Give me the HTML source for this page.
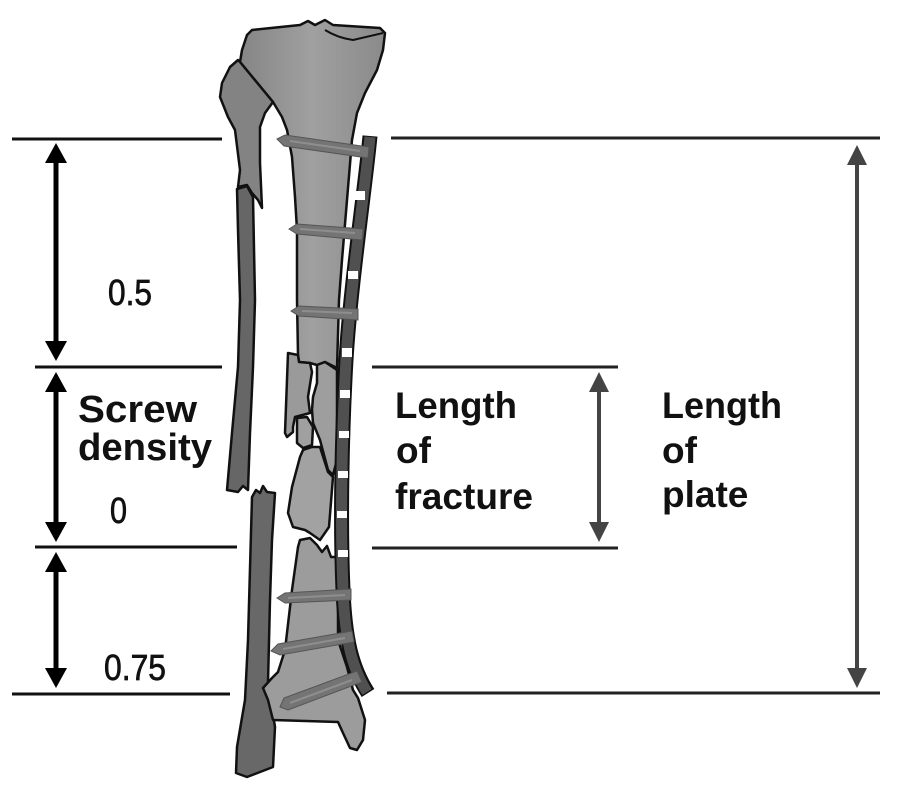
<!DOCTYPE html>
<html><head><meta charset="utf-8"><style>
html,body{margin:0;padding:0;background:#fff;}
svg{display:block;}
text{font-family:"Liberation Sans",Arial,sans-serif;fill:#111;}
.b{font-weight:bold;}
.n{stroke:#111;stroke-width:0.7;}
</style></head><body>
<svg width="901" height="800" viewBox="0 0 901 800" xmlns="http://www.w3.org/2000/svg">
<defs>
<linearGradient id="tib" x1="0" y1="0" x2="1" y2="0">
<stop offset="0" stop-color="#858585"/><stop offset="0.5" stop-color="#a0a0a0"/><stop offset="1" stop-color="#8a8a8a"/>
</linearGradient>
</defs>

<!-- Left dimension lines -->
<g stroke="#111" stroke-width="3">
<line x1="12" y1="139" x2="222" y2="139"/>
<line x1="35" y1="367" x2="222" y2="367"/>
<line x1="35" y1="547" x2="237" y2="547"/>
<line x1="12" y1="694" x2="230" y2="694"/>
</g>
<!-- Left arrows -->
<g stroke="#000" stroke-width="5">
<line x1="56" y1="160" x2="56" y2="344"/>
<line x1="56" y1="389" x2="56" y2="525"/>
<line x1="56" y1="569" x2="56" y2="671"/>
</g>
<g fill="#000">
<polygon points="56,143 45,163 67,163"/>
<polygon points="56,361 45,341 67,341"/>
<polygon points="56,372 45,392 67,392"/>
<polygon points="56,542 45,522 67,522"/>
<polygon points="56,552 45,572 67,572"/>
<polygon points="56,688 45,668 67,668"/>
</g>

<!-- Right dimension lines -->
<g stroke="#222" stroke-width="3">
<line x1="391" y1="138" x2="880" y2="138"/>
<line x1="387" y1="693" x2="880" y2="693"/>
<line x1="372" y1="367" x2="618" y2="367"/>
<line x1="372" y1="548" x2="618" y2="548"/>
</g>
<g stroke="#444" stroke-width="4">
<line x1="857" y1="160" x2="857" y2="672"/>
<line x1="599" y1="390" x2="599" y2="525"/>
</g>
<g fill="#444">
<polygon points="857,145 847,165 867,165"/>
<polygon points="857,688 847,668 867,668"/>
<polygon points="599,372 589,392 609,392"/>
<polygon points="599,542 589,522 609,522"/>
</g>

<!-- Labels -->
<text class="n" x="108" y="305" font-size="36" textLength="44" lengthAdjust="spacingAndGlyphs">0.5</text>
<text class="n" x="110" y="523" font-size="36" textLength="17" lengthAdjust="spacingAndGlyphs">0</text>
<text class="n" x="104" y="680" font-size="36" textLength="62" lengthAdjust="spacingAndGlyphs">0.75</text>
<text class="b" x="78" y="422" font-size="38" textLength="119" lengthAdjust="spacingAndGlyphs">Screw</text>
<text class="b" x="78" y="460" font-size="38" textLength="134" lengthAdjust="spacingAndGlyphs">density</text>
<text class="b" x="395" y="418" font-size="37" textLength="122" lengthAdjust="spacingAndGlyphs">Length</text>
<text class="b" x="396" y="463" font-size="37">of</text>
<text class="b" x="395" y="509" font-size="37" textLength="138" lengthAdjust="spacingAndGlyphs">fracture</text>
<text class="b" x="662" y="418" font-size="37" textLength="120" lengthAdjust="spacingAndGlyphs">Length</text>
<text class="b" x="662" y="463" font-size="37">of</text>
<text class="b" x="662" y="507" font-size="37">plate</text>

<!-- Bone drawing -->
<g stroke="#111" stroke-width="2.5" stroke-linejoin="round">
<!-- Proximal tibia + shaft -->
<path fill="url(#tib)" d="M247,35 L252,30 L300,25 L308,21 L315,25 L325,20 L333,25 L380,28 L385,33 L383,50 L377,70 L365,93 L357,113 L352,140 L347,200 L342,260 L339,300 L337,368 L325,362 L317,365 L310,363 L299,362 L298,355 L297,300 L297,230 L295,197 L292,157 L287,130 L282,117 L273,102 L240,62 L242,50 Z"/>
<path fill="none" stroke-width="2" d="M325,30 Q338,38 353,40 L383,33"/>
<!-- Fibula head -->
<path fill="#838383" d="M238,60 L240,62 L273,102 L265,113 L260,127 L260,163 L262,208 L258,200 L252,193 L247,185 L238,187 L240,170 L235,130 L228,117 L220,97 L222,83 L230,67 Z"/>
<!-- Fibula strip -->
<path fill="#666" d="M237,189 L247,186 L253,197 L255,300 L253,367 L250,433 L248,490 L243,486 L238,492 L227,490 L232,433 L238,367 L240,300 L238,230 Z"/>
<!-- Lower fibula -->
<path fill="#686868" d="M252,497 L256,490 L260,493 L263,486 L267,492 L275,493 L272,540 L270,600 L268,683 L275,727 L273,767 L247,777 L236,773 L237,747 L245,700 L248,640 Z"/>
<!-- Fragments -->
<path fill="#9a9a9a" d="M288,353 L298,355 L299,362 L310,363 L312,372 L308,397 L310,413 L295,417 L293,427 L293,432 L287,437 L285,433 Z"/>
<path fill="#9e9e9e" d="M317,365 L325,362 L337,370 L337,460 L333,475 L328,470 L320,440 L313,423 L312,410 L313,397 L317,383 Z"/>
<path fill="#a0a0a0" d="M297,418 L307,417 L313,427 L312,445 L303,448 L297,443 Z"/>
<path fill="#a2a2a2" d="M300,457 L303,450 L312,447 L320,447 L328,472 L333,477 L329,527 L320,540 L310,533 L305,530 L293,527 L288,513 L292,487 Z"/>
<!-- Distal tibia -->
<path fill="#9c9c9c" d="M300,540 L310,538 L317,545 L322,552 L327,546 L331,557 L338,557 L338,640 L347,667 L353,690 L358,698 L365,720 L363,740 L357,750 L350,748 L343,733 L338,722 L273,720 L268,700 L263,688 L272,678 L278,672 L285,650 L292,590 L298,547 Z"/>
</g>

<!-- Plate -->
<path d="M370,136 C366,180 350,290 346,360 C342,430 340,520 343,590 C345,640 352,668 368,693" fill="none" stroke="#111" stroke-width="15" stroke-linecap="butt"/>
<path d="M370,137 C366,180 350,290 346,360 C342,430 340,520 343,590 C345,640 352,668 367,692" fill="none" stroke="#505050" stroke-width="11" stroke-linecap="butt"/>
<g fill="#fff">
<rect x="355" y="191" width="10" height="9"/>
<rect x="348" y="271" width="10" height="8"/>
<rect x="342" y="348" width="10" height="9"/>
<rect x="340" y="390" width="10" height="8"/>
<rect x="339" y="431" width="10" height="7"/>
<rect x="338" y="471" width="10" height="7"/>
<rect x="337" y="511" width="10" height="7"/>
<rect x="338" y="550" width="10" height="7"/>
</g>

<!-- Screws -->
<g fill="#747474" stroke="#555" stroke-width="1">
<polygon points="277,139 285,135 369,147 368,158 284,146"/>
<polygon points="289,229 297,224 363,229 362,240 297,234"/>
<polygon points="291,311 299,306 358,309 358,320 299,316"/>
<polygon points="277,598 285,593 351,589 351,600 285,603"/>
<polygon points="271,651 278,644 352,631 354,642 280,655"/>
<polygon points="280,707 284,698 357,671 362,682 288,710"/>
</g>
<g stroke="#8e8e8e" stroke-width="2">
<line x1="290" y1="141" x2="360" y2="151"/>
<line x1="300" y1="229" x2="355" y2="233"/>
<line x1="302" y1="311" x2="352" y2="313"/>
<line x1="288" y1="598" x2="345" y2="595"/>
<line x1="283" y1="649" x2="345" y2="638"/>
<line x1="290" y1="703" x2="352" y2="680"/>
</g>
</svg>
</body></html>
